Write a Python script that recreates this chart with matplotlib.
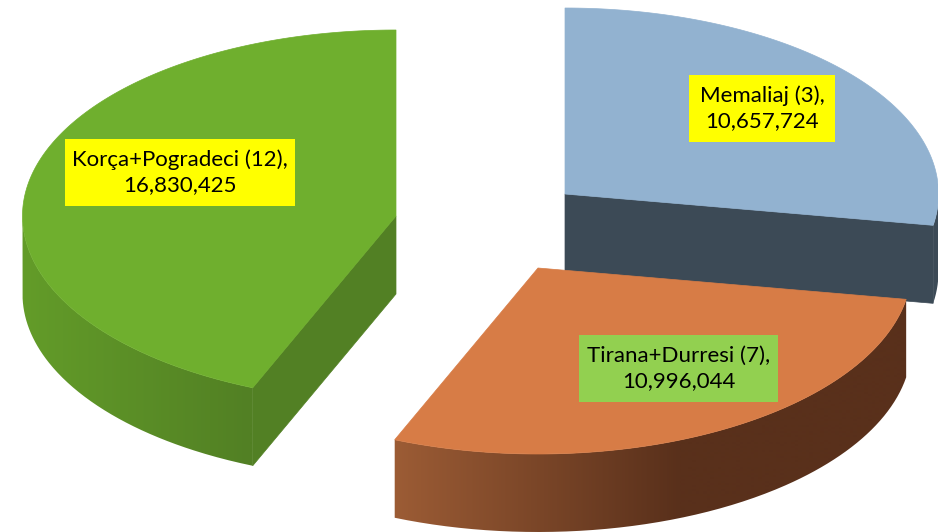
#Exploded 3D style pie of the three regions, drawn by hand since matplotlib has no pseudo-3D pie
import numpy as np
import matplotlib
matplotlib.use("Agg")
import matplotlib.pyplot as plt
from matplotlib.patches import Polygon, Rectangle, PathPatch
from matplotlib.path import Path
from matplotlib.colors import to_rgb

plt.rcParams['font.family'] = ['Lato', 'DejaVu Sans']

#chart values
names = ["Memaliaj", "Tirana+Durresi", "Korça+Pogradeci"]
counts = [3, 7, 12]
values = [10657724, 10996044, 16830425]

#colours, the wall colours are the two ends of a horizontal gradient
topColors = ["#92B2D0", "#D77C46", "#6FAF2E"]
cutColors = ["#3C4A56", None, "#528024"]
wallColors = [("#3C4A56", "#3C4A56"), ("#9C5C35", "#59301B"), ("#639C29", "#528024")]
wallRamps = [(900, 938), (395, 680), (22, 250)]
labelColors = ["#FFFF00", "#92D050", "#FFFF00"]

#layout, all in pixels of the picture
apexes = [(565, 194), (538, 268), (396, 216)]
labelBoxes = [(689, 75, 146, 67), (579, 335, 199, 67), (65, 139, 230, 67)]
rx, ry = 373.5, 186
depth = 78


def rim(cx, cy, a, b):
    #points along the ellipse, angles are clockwise from the top of the pie
    t = np.radians(np.linspace(a, b, 200))
    return np.column_stack((cx + rx*np.sin(t), cy - ry*np.cos(t)))


fig = plt.figure(figsize=(9.38, 5.32), dpi=100)
ax = fig.add_axes([0, 0, 1, 1])

edges = np.cumsum([0] + values)/sum(values)*360

for i in range(len(values)):
    cx, cy = apexes[i]
    a, b = edges[i], edges[i + 1]

    #flat cut face, only where it looks towards the viewer
    if cutColors[i] is not None:
        tipAngle = np.radians(b if i == 0 else a)
        tip = (cx + rx*np.sin(tipAngle), cy - ry*np.cos(tipAngle))
        ax.add_patch(Polygon([(cx, cy), tip, (tip[0], tip[1] + depth), (cx, cy + depth)],
                             closed=True, fc=cutColors[i], ec=cutColors[i], lw=0.5))

    #outer wall, the part of the rim on the front half of the ellipse
    wa, wb = max(a, 90), min(b, 270)
    if wb > wa:
        arc = rim(cx, cy, wa, wb)
        verts = np.vstack((arc, (arc + [0, depth])[::-1], arc[:1]))
        clip = PathPatch(Path(verts), fc="none", ec="none", transform=ax.transData)
        ax.add_patch(clip)
        x = np.arange(0, 939)
        left, right = to_rgb(wallColors[i][0]), to_rgb(wallColors[i][1])
        grad = np.stack([np.interp(x, wallRamps[i], [left[c], right[c]]) for c in range(3)], axis=-1)
        im = ax.imshow(grad[np.newaxis, :, :], extent=(0, 938, 532, 0), aspect="auto", interpolation="bilinear")
        im.set_clip_path(clip)

    #top face
    top = np.vstack(([(cx, cy)], rim(cx, cy, a, b)))
    ax.add_patch(Polygon(top, closed=True, fc=topColors[i], ec=topColors[i], lw=0.5, zorder=3))

    #label
    bx, by, bw, bh = labelBoxes[i]
    ax.add_patch(Rectangle((bx, by), bw, bh, fc=labelColors[i], ec="none", zorder=4))
    ax.text(bx + bw/2, by + bh/2, f"{names[i]} ({counts[i]}),\n{values[i]:,}", ha="center", va="center",
            fontsize=16, color="black", linespacing=1.3, zorder=5)

ax.set_xlim(0, 938)
ax.set_ylim(532, 0)
ax.axis("off")

fig.savefig("out.png", dpi=100, facecolor="white")
